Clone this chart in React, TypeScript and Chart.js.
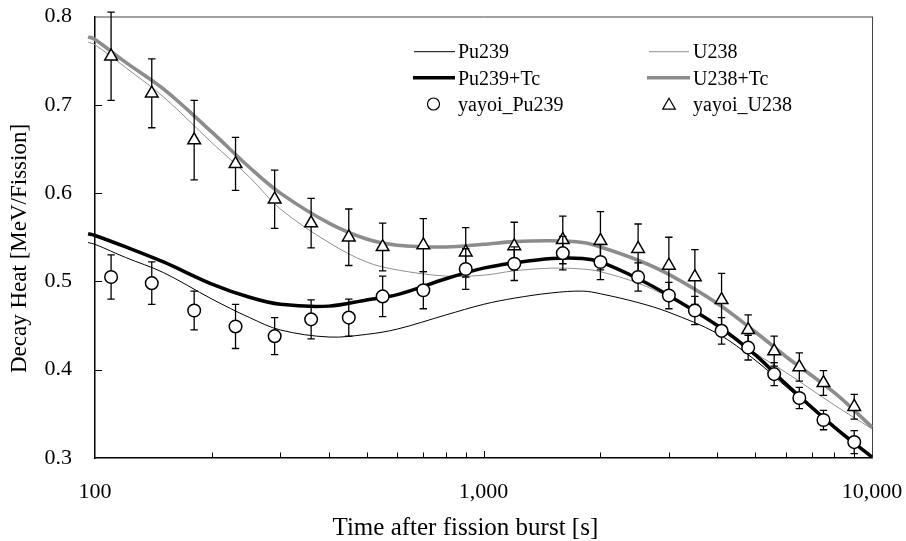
import React, { useEffect, useRef } from 'react';
import { Chart, registerables } from 'chart.js';

Chart.register(...registerables);

const FONT = "'Liberation Serif', 'Times New Roman', serif";

// measurement times [s]
const times = [110, 140, 180, 230, 290, 360, 450, 550, 700, 900, 1200, 1600, 2000, 2500, 3000, 3500, 4100, 4800, 5600, 6500, 7500, 9000];
const yayoiPu239 = [0.505, 0.498, 0.467, 0.449, 0.438, 0.457, 0.459, 0.483, 0.490, 0.514, 0.520, 0.532, 0.522, 0.505, 0.484, 0.467, 0.444, 0.425, 0.395, 0.368, 0.343, 0.318];
const yayoiPu239Err = [0.025, 0.024, 0.022, 0.025, 0.021, 0.022, 0.021, 0.023, 0.021, 0.023, 0.019, 0.019, 0.020, 0.016, 0.015, 0.016, 0.015, 0.014, 0.013, 0.012, 0.011, 0.013];
const yayoiU238 = [0.755, 0.713, 0.660, 0.633, 0.593, 0.566, 0.550, 0.539, 0.541, 0.533, 0.540, 0.547, 0.546, 0.537, 0.518, 0.505, 0.479, 0.445, 0.421, 0.403, 0.385, 0.358];
const yayoiU238Err = [0.050, 0.039, 0.045, 0.030, 0.033, 0.028, 0.032, 0.027, 0.030, 0.028, 0.027, 0.027, 0.033, 0.028, 0.032, 0.031, 0.030, 0.017, 0.017, 0.016, 0.014, 0.014];

// calculated curves
const curveTimes = [96, 100, 120, 150, 200, 250, 300, 400, 500, 600, 800, 1000, 1200, 1500, 1800, 2000, 2500, 3000, 4000, 5000, 6000, 8000, 10000];
const pu239 = [0.544, 0.542, 0.527, 0.510, 0.480, 0.459, 0.445, 0.437, 0.440, 0.446, 0.462, 0.474, 0.481, 0.487, 0.489, 0.486, 0.476, 0.465, 0.441, 0.411, 0.381, 0.334, 0.301];
const pu239Tc = [0.554, 0.552, 0.539, 0.522, 0.497, 0.482, 0.474, 0.472, 0.479, 0.485, 0.503, 0.515, 0.521, 0.526, 0.526, 0.522, 0.503, 0.484, 0.450, 0.417, 0.384, 0.335, 0.301];
const u238 = [0.771, 0.768, 0.742, 0.709, 0.657, 0.618, 0.582, 0.544, 0.522, 0.513, 0.506, 0.507, 0.512, 0.515, 0.514, 0.511, 0.498, 0.482, 0.450, 0.419, 0.397, 0.360, 0.333];
const u238Tc = [0.777, 0.774, 0.748, 0.718, 0.669, 0.629, 0.600, 0.566, 0.548, 0.541, 0.539, 0.542, 0.545, 0.546, 0.544, 0.539, 0.524, 0.508, 0.475, 0.443, 0.415, 0.374, 0.335];

const xTickValues = [100, 1000, 10000];
const yTickValues = [0.3, 0.4, 0.5, 0.6, 0.7, 0.8];

const xTitle = 'Time after fission burst [s]';
const yTitle = 'Decay Heat [MeV/Fission]';

const GRAY = '#8c8c8c';
const THIN_GRAY = '#8f8f8f';

const toXY = (xs: number[], ys: number[]) => xs.map((x, i) => ({ x, y: ys[i] }));

const decorPlugin = {
  id: 'decor',
  beforeDatasetsDraw(chart: any) {
    const { ctx, chartArea: a, scales } = chart;
    const xs = scales.x;
    const ys = scales.y;
    ctx.save();
    // frame top & right
    ctx.strokeStyle = '#444';
    ctx.lineWidth = 1;
    ctx.beginPath();
    ctx.moveTo(a.left, a.top + 0.5);
    ctx.lineTo(a.right, a.top + 0.5);
    ctx.moveTo(a.right + 0.5, a.top);
    ctx.lineTo(a.right + 0.5, a.bottom);
    ctx.stroke();
    // inward ticks
    ctx.strokeStyle = '#000';
    ctx.lineWidth = 1;
    ctx.beginPath();
    yTickValues.slice(1, -1).forEach((v) => {
      const py = Math.round(ys.getPixelForValue(v)) + 0.5;
      ctx.moveTo(a.left, py);
      ctx.lineTo(a.left + 7, py);
    });
    [100, 1000].forEach((dec) => {
      for (let m = 2; m <= 9; m++) {
        const px = Math.round(xs.getPixelForValue(m * dec)) + 0.5;
        ctx.moveTo(px, a.bottom);
        ctx.lineTo(px, a.bottom - 5.5);
      }
    });
    const p1000 = Math.round(xs.getPixelForValue(1000)) + 0.5;
    ctx.moveTo(p1000, a.bottom);
    ctx.lineTo(p1000, a.bottom - 7);
    ctx.stroke();
    ctx.restore();
  },
  beforeDatasetDraw(chart: any, args: any) {
    const ds = chart.data.datasets[args.index];
    if (!ds.errors) return;
    const { ctx, scales } = chart;
    ctx.save();
    ctx.strokeStyle = '#000';
    ctx.lineWidth = 1.3;
    ctx.beginPath();
    ds.data.forEach((pt: any, i: number) => {
      const e = ds.errors[i];
      const px = scales.x.getPixelForValue(pt.x);
      const top = scales.y.getPixelForValue(pt.y + e);
      const bot = scales.y.getPixelForValue(pt.y - e);
      ctx.moveTo(px, top);
      ctx.lineTo(px, bot);
      ctx.moveTo(px - 3.7, top);
      ctx.lineTo(px + 3.7, top);
      ctx.moveTo(px - 3.7, bot);
      ctx.lineTo(px + 3.7, bot);
    });
    ctx.stroke();
    ctx.restore();
  },
  afterDraw(chart: any) {
    const { ctx } = chart;
    ctx.save();
    ctx.fillStyle = '#000';
    // axis titles
    ctx.font = `25px ${FONT}`;
    ctx.textAlign = 'left';
    ctx.textBaseline = 'alphabetic';
    ctx.fillText(xTitle, 332.5, 535);
    ctx.save();
    ctx.font = `23px ${FONT}`;
    ctx.translate(25.5, 373);
    ctx.rotate(-Math.PI / 2);
    ctx.fillText(yTitle, 0, 0);
    ctx.restore();

    // legend
    ctx.font = `20px ${FONT}`;
    const rows = [58.3, 84.5, 111];
    const mids = [51.7, 77.7, 104];
    const line = (x1: number, x2: number, y: number, color: string, w: number) => {
      ctx.strokeStyle = color;
      ctx.lineWidth = w;
      ctx.beginPath();
      ctx.moveTo(x1, y);
      ctx.lineTo(x2, y);
      ctx.stroke();
    };
    line(414, 455, mids[0], '#000', 1);
    line(413, 455, mids[1], '#000', 3.5);
    line(649, 689, mids[0], THIN_GRAY, 1);
    line(647, 690, mids[1], GRAY, 3.5);
    // circle marker
    ctx.strokeStyle = '#000';
    ctx.lineWidth = 1.2;
    ctx.fillStyle = '#fff';
    ctx.beginPath();
    ctx.arc(433.5, mids[2], 6, 0, Math.PI * 2);
    ctx.fill();
    ctx.stroke();
    // triangle marker
    const r = 7.3;
    const cx = 669;
    const cy = mids[2] + 1.5;
    ctx.beginPath();
    ctx.moveTo(cx, cy - r);
    ctx.lineTo(cx + r * Math.sin((2 * Math.PI) / 3), cy - r * Math.cos((2 * Math.PI) / 3));
    ctx.lineTo(cx + r * Math.sin((4 * Math.PI) / 3), cy - r * Math.cos((4 * Math.PI) / 3));
    ctx.closePath();
    ctx.fill();
    ctx.stroke();

    ctx.fillStyle = '#000';
    ctx.fillText('Pu239', 458, rows[0]);
    ctx.fillText('Pu239+Tc', 458, rows[1]);
    ctx.fillText('yayoi_Pu239', 458, rows[2]);
    ctx.fillText('U238', 693, rows[0]);
    ctx.fillText('U238+Tc', 693, rows[1]);
    ctx.fillText('yayoi_U238', 693, rows[2]);
    ctx.restore();
  },
};

export default function App() {
  const ref = useRef<HTMLCanvasElement>(null);
  useEffect(() => {
    const curve = (label: string, ys: number[], color: string, width: number, order: number) =>
      ({
        label,
        data: toXY(curveTimes, ys),
        borderColor: color,
        borderWidth: width,
        pointRadius: 0,
        tension: 0.35,
        clip: false,
        order,
      }) as any;
    const chart = new Chart(ref.current as HTMLCanvasElement, {
      type: 'line',
      data: {
        datasets: [
          {
            label: 'yayoi_Pu239',
            data: toXY(times, yayoiPu239),
            errors: yayoiPu239Err,
            showLine: false,
            pointStyle: 'circle',
            pointRadius: 6.3,
            pointBackgroundColor: '#fff',
            pointBorderColor: '#000',
            pointBorderWidth: 1.5,
            order: 0,
          } as any,
          {
            label: 'yayoi_U238',
            data: toXY(times, yayoiU238),
            errors: yayoiU238Err,
            showLine: false,
            pointStyle: 'triangle',
            pointRadius: 7.3,
            pointBackgroundColor: '#fff',
            pointBorderColor: '#000',
            pointBorderWidth: 1.5,
            order: 0,
          } as any,
          curve('U238+Tc', u238Tc, GRAY, 3.6, 2),
          curve('U238', u238, THIN_GRAY, 1, 2),
          curve('Pu239', pu239, '#000', 1, 1),
          curve('Pu239+Tc', pu239Tc, '#000', 3.5, 1),
        ],
      },
      options: {
        animation: false,
        responsive: false,
        events: [],
        layout: { padding: { left: 0, right: 34, top: 16.5, bottom: 0 } },
        plugins: {
          legend: { display: false },
          tooltip: { enabled: false },
          title: { display: false },
        },
        scales: {
          x: {
            type: 'logarithmic',
            min: 100,
            max: 10000,
            grid: { display: false, drawTicks: false },
            border: { display: true, color: '#000', width: 1.5 },
            ticks: {
              autoSkip: false,
              maxRotation: 0,
              padding: 21,
              color: '#000',
              font: { family: FONT, size: 22 },
              callback: (v: any) => Number(v).toLocaleString('en-US'),
            },
            afterBuildTicks: (s: any) => {
              s.ticks = xTickValues.map((v) => ({ value: v }));
            },
            afterFit: (s: any) => {
              s.height = 83;
              s.paddingLeft = 0;
              s.paddingRight = 0;
              s.paddingTop = 0;
              s.paddingBottom = 0;
            },
          },
          y: {
            type: 'linear',
            min: 0.3,
            max: 0.8,
            grid: { display: false, drawTicks: false },
            border: { display: true, color: '#000', width: 1.5 },
            ticks: {
              padding: 23,
              color: '#000',
              font: { family: FONT, size: 22 },
              callback: (v: any) => Number(v).toFixed(1),
            },
            afterBuildTicks: (s: any) => {
              s.ticks = yTickValues.map((v) => ({ value: v }));
            },
            afterFit: (s: any) => {
              s.width = 95;
              s.paddingLeft = 0;
              s.paddingRight = 0;
              s.paddingTop = 0;
              s.paddingBottom = 0;
            },
          },
        },
      } as any,
      plugins: [decorPlugin],
    });
    return () => chart.destroy();
  }, []);

  return (
    <div style={{ position: 'absolute', left: 0, top: 0, width: 906, height: 541, background: '#fff' }}>
      <canvas ref={ref} width={906} height={541} style={{ display: 'block' }} />
    </div>
  );
}
